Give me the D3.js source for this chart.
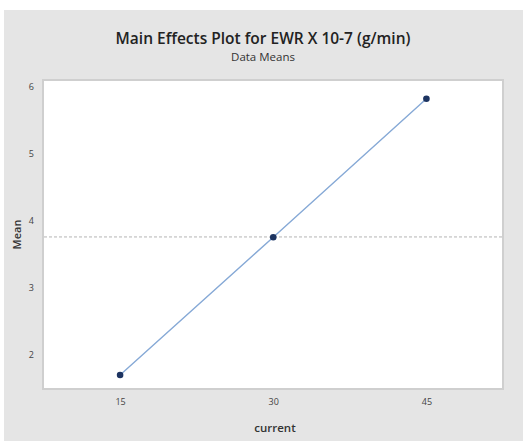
<!DOCTYPE html>
<html>
<head>
<meta charset="utf-8">
<script src="https://d3js.org/d3.v7.min.js"></script>
<style>
  body { margin: 0; background: #fff; }
  svg { display: block; }
</style>
</head>
<body>
<div id="container"></div>
<script>
// data
const levels = [15, 30, 45];              // factor "current"
const means  = [1.69, 3.75, 5.82];        // data means
const yTicks = [2, 3, 4, 5, 6];
const grandMean = d3.mean(means);

const width = 523, height = 441;
const plot = { left: 43, right: 503, top: 80, bottom: 389 };

const svg = d3.select('#container')
  .append('svg')
  .attr('width', width)
  .attr('height', height);

// grey panel behind everything
svg.append('rect')
  .attr('x', 4).attr('y', 10)
  .attr('width', width - 4).attr('height', height - 10)
  .attr('fill', '#e5e5e5');

// scales
const x = d3.scaleLinear().domain([7.45, 52.5]).range([plot.left, plot.right]);
const y = d3.scaleLinear().domain([1.48, 6.1]).range([plot.bottom, plot.top]);

// plot area
svg.append('rect')
  .attr('x', plot.left).attr('y', plot.top)
  .attr('width', plot.right - plot.left)
  .attr('height', plot.bottom - plot.top)
  .attr('fill', '#fff')
  .attr('stroke', '#cfcfcf')
  .attr('stroke-width', 2);

// axes
const xAxis = d3.axisBottom(x).tickValues(levels).tickSize(0).tickPadding(10);
const yAxis = d3.axisLeft(y).tickValues(yTicks).tickFormat(d3.format('d'))
  .tickSize(0).tickPadding(9);

const gx = svg.append('g')
  .attr('transform', `translate(0,${plot.bottom})`)
  .call(xAxis);
const gy = svg.append('g')
  .attr('transform', `translate(${plot.left},0)`)
  .call(yAxis);

[gx, gy].forEach(g => {
  g.select('.domain').remove();
  g.selectAll('text')
    .attr('font-family', 'Open Sans, sans-serif')
    .attr('font-size', 9)
    .attr('fill', '#444');
});

// grand mean reference line
svg.append('line')
  .attr('x1', plot.left + 1).attr('x2', plot.right - 1)
  .attr('y1', y(grandMean)).attr('y2', y(grandMean))
  .attr('stroke', '#b4b4b4')
  .attr('stroke-width', 1)
  .attr('stroke-dasharray', '3,2');

// means line
const line = d3.line()
  .x((d, i) => x(levels[i]))
  .y(d => y(d));

svg.append('path')
  .datum(means)
  .attr('d', line)
  .attr('fill', 'none')
  .attr('stroke', '#86a9d6')
  .attr('stroke-width', 1.4);

svg.selectAll('circle.pt')
  .data(means)
  .enter()
  .append('circle')
    .attr('class', 'pt')
    .attr('cx', (d, i) => x(levels[i]))
    .attr('cy', d => y(d))
    .attr('r', 3.3)
    .attr('fill', '#1d3461');

// titles
svg.append('text')
  .attr('x', 263).attr('y', 44)
  .attr('text-anchor', 'middle')
  .attr('font-family', 'Open Sans, sans-serif')
  .attr('font-size', 15.5)
  .attr('font-weight', 600)
  .attr('fill', '#222')
  .text('Main Effects Plot for EWR X 10-7 (g/min)');

svg.append('text')
  .attr('x', 263).attr('y', 61)
  .attr('text-anchor', 'middle')
  .attr('font-family', 'Open Sans, sans-serif')
  .attr('font-size', 11.5)
  .attr('fill', '#333')
  .text('Data Means');

// axis titles
svg.append('text')
  .attr('x', (plot.left + plot.right) / 2 + 2).attr('y', 432)
  .attr('text-anchor', 'middle')
  .attr('font-family', 'Open Sans, sans-serif')
  .attr('font-size', 11.5)
  .attr('font-weight', 600)
  .attr('fill', '#333')
  .text('current');

svg.append('text')
  .attr('transform', `translate(21,${(plot.top + plot.bottom) / 2}) rotate(-90)`)
  .attr('text-anchor', 'middle')
  .attr('font-family', 'Open Sans, sans-serif')
  .attr('font-size', 11)
  .attr('font-weight', 600)
  .attr('fill', '#333')
  .text('Mean');
</script>
</body>
</html>
